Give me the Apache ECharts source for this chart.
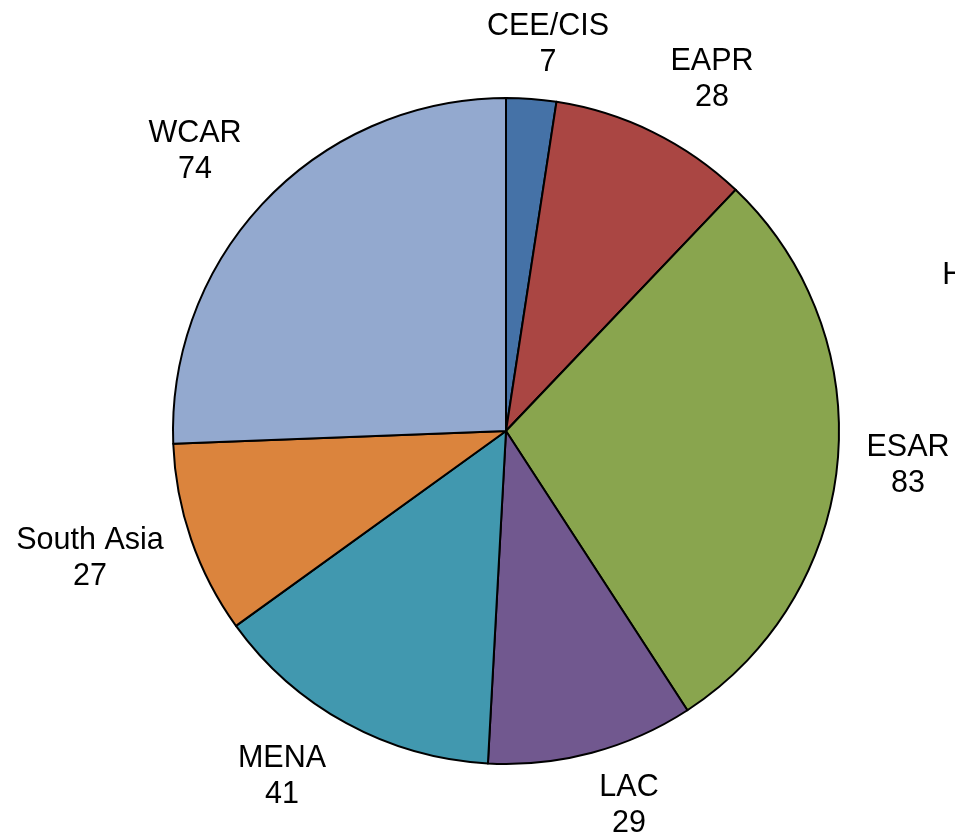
<!DOCTYPE html>
<html>
<head>
<meta charset="utf-8">
<script src="https://cdn.jsdelivr.net/npm/echarts@6/dist/echarts.min.js"></script>
<style>
  html, body { margin: 0; padding: 0; background: #fff; }
  #chart { width: 955px; height: 839px; }
</style>
</head>
<body>
<div id="chart"></div>
<script>
// Regions and their counts, clockwise from 12 o'clock
const regions = ['CEE/CIS', 'EAPR', 'HQ', 'ESAR', 'LAC', 'MENA', 'South Asia', 'WCAR'];
const counts  = [7, 28, 0, 83, 29, 41, 27, 74];
const colors  = ['#4572A7', '#AA4643', '#FFFFFF', '#89A54E', '#71588F', '#4198AF', '#DB843D', '#93A9CF'];

// Label block centres (px), in the same order as the regions
const labelSpots = [
  [548, 45], [712, 80], [965, 294], [908, 466],
  [629, 806], [282, 777], [90, 559], [195, 152]
];

const chart = echarts.init(document.getElementById('chart'), null, { renderer: 'canvas' });

chart.setOption({
  animation: false,
  backgroundColor: '#ffffff',
  series: [{
    type: 'pie',
    center: [506, 431],
    radius: 333,
    startAngle: 90,
    clockwise: true,
    avoidLabelOverlap: false,
    itemStyle: { borderColor: '#000000', borderWidth: 2 },
    emphasis: { disabled: true },
    label: {
      show: true,
      position: 'outside',
      formatter: '{b}\n{c}',
      fontFamily: 'Liberation Sans, Arial, sans-serif',
      fontSize: 30.5,
      lineHeight: 36,
      color: '#000000'
    },
    labelLine: { show: false },
    labelLayout: function (params) {
      const p = labelSpots[params.dataIndex];
      return { x: p[0], y: p[1], align: 'center', verticalAlign: 'middle', hideOverlap: false };
    },
    data: regions.map((name, i) => ({
      name: name,
      value: counts[i],
      itemStyle: { color: colors[i] }
    }))
  }]
});
</script>
</body>
</html>
